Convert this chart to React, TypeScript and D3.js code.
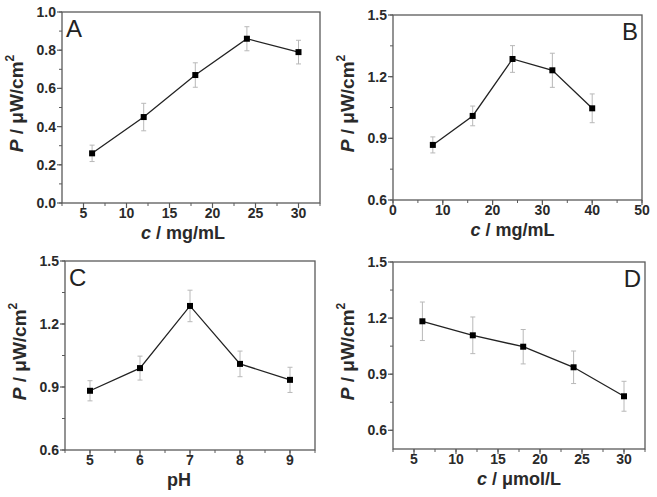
import React from "react";
import * as d3 from "d3";

const xA = [6, 12, 18, 24, 30];
const yA = [0.26, 0.45, 0.67, 0.86, 0.79];
const eA = [0.043, 0.072, 0.064, 0.063, 0.062];

const xB = [8, 16, 24, 32, 40];
const yB = [0.868, 1.009, 1.286, 1.231, 1.046];
const eB = [0.039, 0.048, 0.065, 0.083, 0.07];

const xC = [5, 6, 7, 8, 9];
const yC = [0.882, 0.99, 1.286, 1.01, 0.934];
const eC = [0.048, 0.057, 0.075, 0.061, 0.06];

const xD = [6, 12, 18, 24, 30];
const yD = [1.183, 1.108, 1.047, 0.937, 0.782];
const eD = [0.103, 0.098, 0.092, 0.087, 0.08];

const xTicksA = [5, 10, 15, 20, 25, 30];
const yTicksA = [0.0, 0.2, 0.4, 0.6, 0.8, 1.0];
const xTicksB = [0, 10, 20, 30, 40, 50];
const yTicksB = [0.6, 0.9, 1.2, 1.5];
const xTicksC = [5, 6, 7, 8, 9];
const yTicksC = [0.6, 0.9, 1.2, 1.5];
const xTicksD = [5, 10, 15, 20, 25, 30];
const yTicksD = [0.6, 0.9, 1.2, 1.5];

const FONT = "'Liberation Sans', Arial, sans-serif";

type PanelCfg = {
  letter: string;
  letterRight: boolean;
  box: [number, number, number, number]; // left, right, top, bottom
  xDomain: [number, number];
  yDomain: [number, number];
  xs: number[];
  ys: number[];
  es: number[];
  xTicks: number[];
  yTicks: number[];
  xMinorStep: number;
  yMinorStep: number;
  xFmt: (v: number) => string;
  yFmt: (v: number) => string;
  xTitle: React.ReactNode;
  xTitleShift: number;
};

const f0 = d3.format("d");
const f1 = d3.format(".1f");

function Panel({ c }: { c: PanelCfg }) {
  const [L, R, T, B] = c.box;
  const x = d3.scaleLinear().domain(c.xDomain).range([L, R]);
  const y = d3.scaleLinear().domain(c.yDomain).range([B, T]);
  const line = d3
    .line<number>()
    .x((_, i) => x(c.xs[i]))
    .y((d) => y(d));
  const xMinor = d3.range(
    Math.ceil(c.xDomain[0] / c.xMinorStep - 1e-9) * c.xMinorStep,
    c.xDomain[1] + 1e-9,
    c.xMinorStep
  );
  const yMinor = d3.range(
    Math.ceil(c.yDomain[0] / c.yMinorStep - 1e-9) * c.yMinorStep,
    c.yDomain[1] + 1e-9,
    c.yMinorStep
  );
  const axisColor = "#5a5a5a";
  const midY = (T + B) / 2;
  const midX = (L + R) / 2 + c.xTitleShift;
  return (
    <g>
      {xMinor.map((v, i) => (
        <line key={"xm" + i} x1={x(v)} x2={x(v)} y1={B} y2={B + 3} stroke={axisColor} strokeWidth={1} />
      ))}
      {yMinor.map((v, i) => (
        <line key={"ym" + i} x1={L - 3} x2={L} y1={y(v)} y2={y(v)} stroke={axisColor} strokeWidth={1} />
      ))}
      {c.xTicks.map((v, i) => (
        <g key={"xt" + i}>
          <line x1={x(v)} x2={x(v)} y1={B} y2={B + 5} stroke={axisColor} strokeWidth={1.2} />
          <text x={x(v)} y={B + 15} textAnchor="middle" fontFamily={FONT} fontWeight="bold" fontSize={14} fill="#2a2a2a">
            {c.xFmt(v)}
          </text>
        </g>
      ))}
      {c.yTicks.map((v, i) => (
        <g key={"yt" + i}>
          <line x1={L - 5} x2={L} y1={y(v)} y2={y(v)} stroke={axisColor} strokeWidth={1.2} />
          <text x={L - 6} y={y(v) + 5} textAnchor="end" fontFamily={FONT} fontWeight="bold" fontSize={14} fill="#2a2a2a">
            {c.yFmt(v)}
          </text>
        </g>
      ))}
      <rect x={L} y={T} width={R - L} height={B - T} fill="none" stroke={axisColor} strokeWidth={1.3} />
      {c.ys.map((v, i) => {
        const px = x(c.xs[i]);
        const top = y(v + c.es[i]);
        const bot = y(v - c.es[i]);
        return (
          <g key={"e" + i} stroke="#b8b8b8" strokeWidth={1}>
            <line x1={px} x2={px} y1={top} y2={bot} />
            <line x1={px - 2.5} x2={px + 2.5} y1={top} y2={top} />
            <line x1={px - 2.5} x2={px + 2.5} y1={bot} y2={bot} />
          </g>
        );
      })}
      <path d={line(c.ys) || ""} fill="none" stroke="#222" strokeWidth={1.3} />
      {c.ys.map((v, i) => (
        <rect key={"p" + i} x={x(c.xs[i]) - 3} y={y(v) - 3} width={6} height={6} fill="#000" />
      ))}
      <text
        x={c.letterRight ? R - 4 : L + 4}
        y={T + 25}
        textAnchor={c.letterRight ? "end" : "start"}
        fontFamily={FONT}
        fontSize={24}
        fill="#222"
      >
        {c.letter}
      </text>
      <text x={midX} y={B + 36} textAnchor="middle" fontFamily={FONT} fontWeight="bold" fontSize={18} fill="#2a2a2a">
        {c.xTitle}
      </text>
      <text
        transform={`translate(${L - 39},${midY - 4}) rotate(-90)`}
        textAnchor="middle"
        fontFamily={FONT}
        fontWeight="bold"
        fontSize={19}
        fill="#2a2a2a"
      >
        <tspan fontStyle="italic">P</tspan>
        <tspan> / μW/cm</tspan>
        <tspan fontSize={12} dy={-9}>2</tspan>
      </text>
    </g>
  );
}

const cTitle = (unit: string) => (
  <>
    <tspan fontStyle="italic">c</tspan>
    <tspan>{" / " + unit}</tspan>
  </>
);

const panels: PanelCfg[] = [
  {
    letter: "A",
    letterRight: false,
    box: [62, 320, 12, 203],
    xDomain: [2.5, 32.5],
    yDomain: [0, 1],
    xs: xA,
    ys: yA,
    es: eA,
    xTicks: xTicksA,
    yTicks: yTicksA,
    xMinorStep: 2.5,
    yMinorStep: 0.1,
    xFmt: f0,
    yFmt: f1,
    xTitle: cTitle("mg/mL"),
    xTitleShift: -8,
  },
  {
    letter: "B",
    letterRight: true,
    box: [393, 642, 15, 200],
    xDomain: [0, 50],
    yDomain: [0.6, 1.5],
    xs: xB,
    ys: yB,
    es: eB,
    xTicks: xTicksB,
    yTicks: yTicksB,
    xMinorStep: 5,
    yMinorStep: 0.15,
    xFmt: f0,
    yFmt: f1,
    xTitle: cTitle("mg/mL"),
    xTitleShift: -5,
  },
  {
    letter: "C",
    letterRight: false,
    box: [65, 315, 261, 450],
    xDomain: [4.5, 9.5],
    yDomain: [0.6, 1.5],
    xs: xC,
    ys: yC,
    es: eC,
    xTicks: xTicksC,
    yTicks: yTicksC,
    xMinorStep: 0.5,
    yMinorStep: 0.15,
    xFmt: f0,
    yFmt: f1,
    xTitle: "pH",
    xTitleShift: -11,
  },
  {
    letter: "D",
    letterRight: true,
    box: [393, 645, 262, 449],
    xDomain: [2.5, 32.5],
    yDomain: [0.5, 1.5],
    xs: xD,
    ys: yD,
    es: eD,
    xTicks: xTicksD,
    yTicks: yTicksD,
    xMinorStep: 2.5,
    yMinorStep: 0.15,
    xFmt: f0,
    yFmt: f1,
    xTitle: cTitle("μmol/L"),
    xTitleShift: 0,
  },
];

export default function App() {
  return (
    <svg
      width={657}
      height={497}
      style={{ position: "absolute", left: 0, top: 0, background: "#fff" }}
    >
      <rect x={0} y={0} width={657} height={497} fill="#fff" />
      {panels.map((p, i) => (
        <Panel key={i} c={p} />
      ))}
    </svg>
  );
}
